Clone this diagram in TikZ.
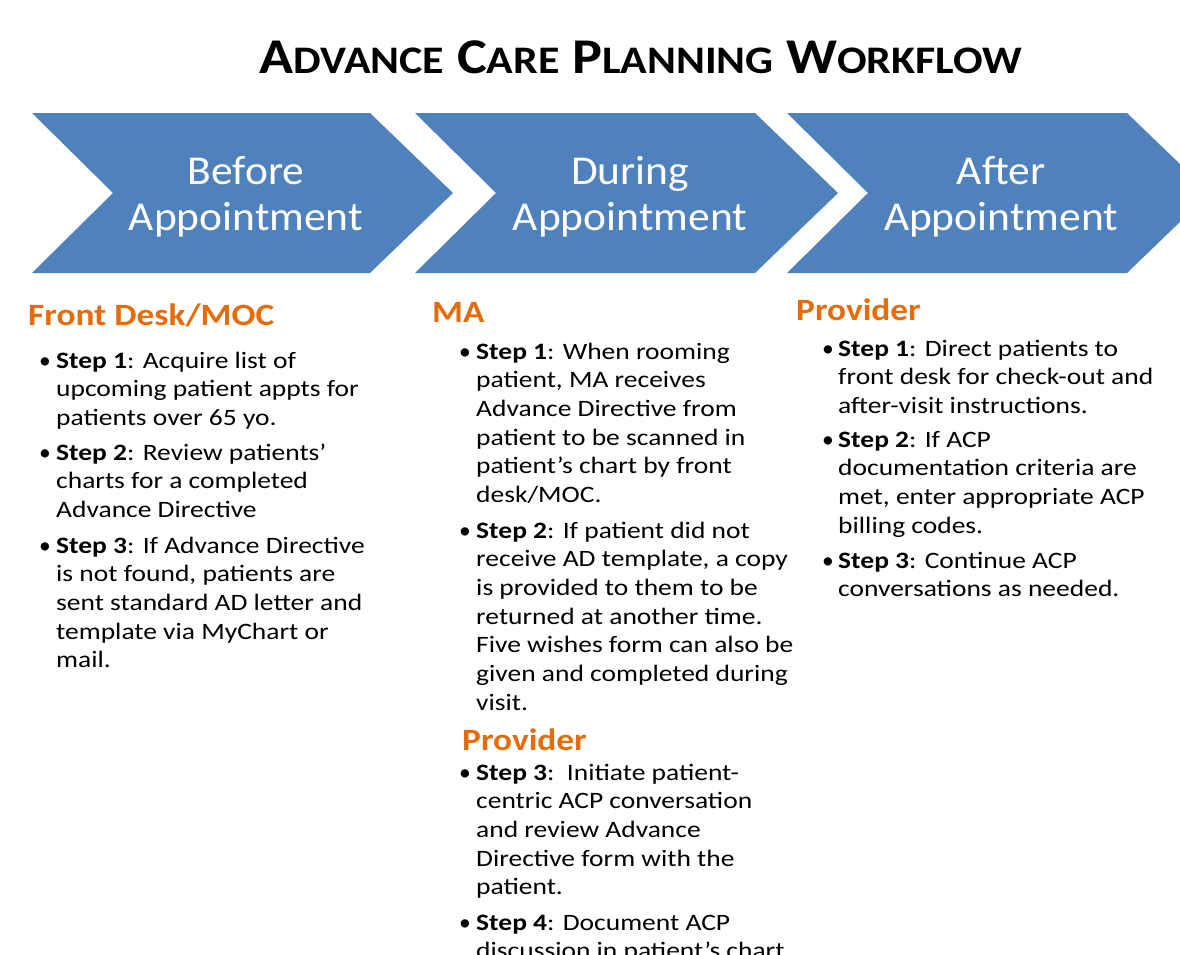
\documentclass[tikz,border=0pt]{standalone}
\usepackage{fontspec}
\setmainfont{Carlito}
% Carlito faces set a little wide, as the printed handout is
\newfontfamily\bodyfont{Carlito}[FakeStretch=1.17]
\newfontfamily\headfont{Carlito}[FakeStretch=1.14]
\newfontfamily\chevfont{Carlito}[FakeStretch=1.06]
\newfontfamily\titlefont{Carlito}[FakeStretch=1.125]
\definecolor{chevblue}{HTML}{4F81BD}
\definecolor{headorange}{HTML}{E46C0A}

% stacked lines, baseline of the node = baseline of the first line
\newcommand\leftstack[1]{\vtop{\baselineskip=28.7pt\halign{##\hfil\cr#1\crcr}}}
\newcommand\midstack[1]{\vtop{\baselineskip=46pt\halign{\hfil##\hfil\cr#1\crcr}}}
% fake small capitals for the title
\newcommand\capword[2]{{\fontsize{50}{50}\selectfont #1}{\fontsize{39}{39}\selectfont #2}}

\tikzset{
  chev/.style={fill=chevblue, draw=none},
  chevlabel/.style={text=white, anchor=base, inner sep=0pt,
    font=\chevfont\fontsize{41}{46}\selectfont},
  head/.style={text=headorange, anchor=base west, inner sep=0pt,
    font=\headfont\bfseries\fontsize{31}{31}\selectfont},
  item/.style={anchor=base west, inner sep=0pt,
    font=\bodyfont\fontsize{23.5}{28.7}\selectfont},
  bul/.style={anchor=base west, inner sep=0pt,
    font=\fontsize{23.5}{28.7}\selectfont},
}

\begin{document}
\begin{tikzpicture}[x=1pt,y=-1pt]
  \useasboundingbox (0,0) rectangle (1180,954);
  \clip (0,0) rectangle (1180,954);

  % title
  \node[anchor=base, inner sep=0pt, font=\titlefont\bfseries\fontsize{50}{50}\selectfont] (title) at (641,73)
    {\capword{A}{DVANCE} \capword{C}{ARE} \capword{P}{LANNING} \capword{W}{ORKFLOW}};

  % the three phase chevrons
  \path[chev] (32,113) -- (370,113) -- (453,193) -- (370,273) -- (32,273) -- (113,193) -- cycle;
  \path[chev] (415,113) -- (755,113) -- (838,193) -- (755,273) -- (415,273) -- (496,193) -- cycle;
  \path[chev] (787,113) -- (1127,113) -- (1210,193) -- (1127,273) -- (787,273) -- (868,193) -- cycle;
  \node[chevlabel] (before) at (246,184) {\midstack{Before\cr Appointment}};
  \node[chevlabel] (during) at (630,184) {\midstack{During\cr Appointment}};
  \node[chevlabel] (after)  at (1001,184) {\midstack{After\cr Appointment}};

  % before the appointment
  \node[head] (fd) at (28,325) {Front Desk/MOC};
  \node[bul] (b11) at (39,368) {•};
  \node[item] (fd1) at (56,368) {\leftstack{\textbf{Step 1}: Acquire list of\cr
    upcoming patient appts for\cr patients over 65 yo.}};
  \node[bul] (b12) at (39,460) {•};
  \node[item] (fd2) at (56,460) {\leftstack{\textbf{Step 2}: Review patients’\cr
    charts for a completed\cr Advance Directive}};
  \node[bul] (b13) at (39,553) {•};
  \node[item] (fd3) at (56,553) {\leftstack{\textbf{Step 3}: If Advance Directive\cr
    is not found, patients are\cr sent standard AD letter and\cr
    template via MyChart or\cr mail.}};

  % during the appointment
  \node[head] (ma) at (432,322) {MA};
  \node[bul] (b21) at (459,359) {•};
  \node[item] (ma1) at (476,359) {\leftstack{\textbf{Step 1}: When rooming\cr
    patient, MA receives\cr Advance Directive from\cr patient to be scanned in\cr
    patient’s chart by front\cr desk/MOC.}};
  \node[bul] (b22) at (459,538) {•};
  \node[item] (ma2) at (476,538) {\leftstack{\textbf{Step 2}: If patient did not\cr
    receive AD template, a copy\cr is provided to them to be\cr
    returned at another time.\cr Five wishes form can also be\cr
    given and completed during\cr visit.}};
  \node[head] (pr2) at (462,750) {Provider};
  \node[bul] (b23) at (459,780) {•};
  \node[item] (pr23) at (476,780) {\leftstack{\textbf{Step 3}:\ \ Initiate patient-\cr
    centric ACP conversation\cr and review Advance\cr
    Directive form with the\cr patient.}};
  \node[bul] (b24) at (459,930) {•};
  \node[item] (pr24) at (476,930) {\leftstack{\textbf{Step 4}: Document ACP\cr
    discussion in patient’s chart}};

  % after the appointment
  \node[head] (pr3) at (796,320) {Provider};
  \node[bul] (b31) at (822,356) {•};
  \node[item] (pr31) at (838,356) {\leftstack{\textbf{Step 1}: Direct patients to\cr
    front desk for check-out and\cr after-visit instructions.}};
  \node[bul] (b32) at (822,447) {•};
  \node[item] (pr32) at (838,447) {\leftstack{\textbf{Step 2}: If ACP\cr
    documentation criteria are\cr met, enter appropriate ACP\cr billing codes.}};
  \node[bul] (b33) at (822,568) {•};
  \node[item] (pr33) at (838,568) {\leftstack{\textbf{Step 3}: Continue ACP\cr
    conversations as needed.}};
\end{tikzpicture}
\end{document}
